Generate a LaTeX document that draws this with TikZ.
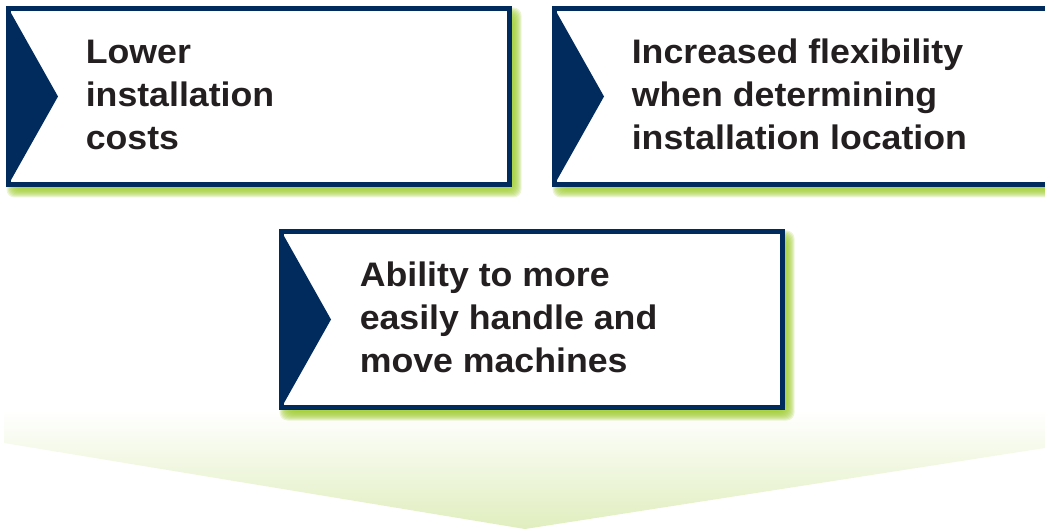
\documentclass[tikz,border=0pt]{standalone}
\usepackage{fontspec}
\setmainfont{Liberation Sans}
\newfontfamily\boxfont[FakeStretch=1.05]{Liberation Sans}
\usetikzlibrary{calc, backgrounds}
\definecolor{navyblue}{RGB}{0, 43, 92}
\definecolor{glowgreen}{RGB}{160, 205, 50}
\definecolor{arrowgreen}{RGB}{224, 238, 190}
\definecolor{textgray}{RGB}{35, 31, 32}
\tikzset{
  featbox/.style={draw=navyblue, line width=3.75pt, fill=white, minimum width=375.75pt, minimum height=132pt, inner sep=0pt, outer sep=0pt},
  feattext/.style={anchor=west, align=left, inner sep=0pt, text=textgray, font=\boxfont\bfseries\fontsize{25.5pt}{32.25pt}\selectfont},
  glowlayer/.style={fill=glowgreen, opacity=0.2, rounded corners=6pt}
}

\begin{document}
\begin{tikzpicture}[x=0.75pt, y=0.75pt]
  \useasboundingbox (0,0) rectangle (1045,529);

  % Boxes
  \node[featbox] (lower) at (259, 432.5) {};
  \node[featbox] (flex) at (805, 432.5) {};
  \node[featbox] (handle) at (532, 209.5) {};

  % Chevrons
  \foreach \b in {lower, flex, handle}
    \fill[navyblue] ($(\b.north west)+(2.5,-4.5)$) -- ($(\b.west)+(49.5,0)$) -- ($(\b.south west)+(2.5,4.5)$) -- cycle;

  % Texts
  \node[feattext] (lowertext) at ($(lower.west)+(77,2)$) {Lower\\installation\\costs};
  \node[feattext] (flextext) at ($(flex.west)+(77,2)$) {Increased flexibility\\when determining\\installation location};
  \node[feattext] (handletext) at ($(handle.west)+(78,2)$) {Ability to more\\easily handle and\\move machines};

  % Arrow and glow behind
  \begin{scope}[on background layer]
    \shade[top color=white, bottom color=arrowgreen] (4,118) -- (4,86) -- (525,0) -- (1050,81.8) -- (1050,118) -- cycle;
    \foreach \b in {lower, flex, handle}
      \foreach \i in {-3,...,7}
        \fill[glowlayer] ($(\b.south west)+(5-\i,-6-\i)$) rectangle ($(\b.north east)+(5+\i,-6+\i)$);
  \end{scope}
\end{tikzpicture}
\end{document}
